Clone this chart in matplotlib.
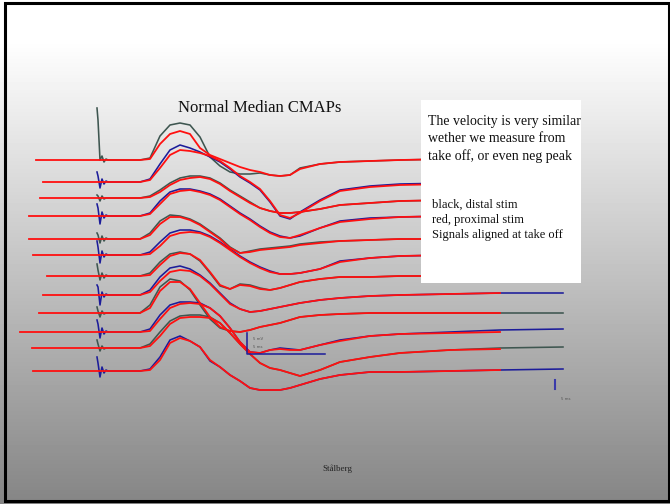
import numpy as np
import matplotlib.pyplot as plt
from matplotlib.patches import Rectangle

W, H = 670, 504

# sample positions along the sweep (slide pixels)
t_wave = [110, 140, 150, 160, 170, 180, 190, 200, 210, 220, 230, 240, 250,
          260, 270, 280, 290, 300, 320, 340, 370, 400, 450, 500, 563]
t_art = [97, 98, 100, 102, 104, 106, 108]

baselines = [160, 182, 198, 216, 239, 255, 276, 295, 313, 332, 348, 371]
red_start = [36, 43, 40, 29, 29, 33, 47, 43, 39, 20, 32, 33]
distal_kind = ['k', 'b', 'k', 'b', 'k', 'b', 'k', 'b', 'k', 'b', 'k', 'b']

# stimulus artefact of the distal sweeps
artefact = [
    [-52, -40, 0, -4, 2, -1, 0],
    [-10, -6, 6, -3, 2, -1, 0],
    [-3, -2, 3, -2, 1, 0, 0],
    [-12, -8, 8, -4, 2, -1, 0],
    [-6, -4, 4, -3, 2, -1, 0],
    [-14, -8, 8, -4, 2, -1, 0],
    [-12, -6, 4, -3, 2, -1, 0],
    [-10, -8, 10, -3, 2, -1, 0],
    [-6, -2, 4, -2, 1, 0, 0],
    [-12, -8, 6, -4, 2, -1, 0],
    [-8, -4, 3, -2, 1, 0, 0],
    [-14, -8, 6, -4, 2, -1, 0],
]

# distal stim (black / blue), deflection in px, negative = up
distal = [
    [0, 0, -2, -24, -35, -37, -35, -23, -3, 6, 12, 14, 14, 13, 15, 16, 15, 8, 4, 2, 1, 0, -1, -1, -1],
    [0, 0, -3, -18, -32, -37, -34, -30, -25, -20, -13, -5, 1, 8, 20, 34, 37, 30, 18, 8, 4, 2, 1, 0, 0],
    [0, 0, -2, -8, -15, -20, -22, -22, -20, -15, -8, -2, 4, 10, 13, 15, 15, 14, 11, 7, 5, 3, 2, 1, 1],
    [0, 0, -3, -15, -24, -27, -27, -25, -22, -17, -10, -3, 3, 10, 16, 20, 22, 20, 12, 5, 2, 1, 0, 0, 0],
    [0, 0, -6, -18, -24, -23, -20, -15, -8, -1, 8, 14, 12, 10, 9, 8, 7, 5, 3, 2, 1, 0, 0, 0, 0],
    [0, 0, -3, -13, -22, -25, -25, -23, -19, -13, -6, 1, 7, 12, 16, 19, 19, 18, 14, 6, 3, 1, 0, 0, 0],
    [0, 0, -3, -14, -22, -24, -22, -15, -3, 10, 13, 8, 9, 12, 14, 12, 9, 6, 3, 1, 1, 0, 0, 0, 0],
    [0, 0, -5, -18, -27, -29, -26, -20, -12, -2, 8, 14, 17, 16, 14, 12, 10, 8, 5, 3, 1, 0, -1, -2, -2],
    [0, 0, -8, -26, -34, -32, -23, -8, 6, 15, 18, 19, 17, 14, 12, 10, 7, 4, 2, 1, 0, 0, 0, 0, 0],
    [0, 0, -3, -17, -27, -30, -30, -29, -24, -16, -4, 10, 20, 21, 18, 16, 17, 18, 13, 8, 4, 2, 0, -2, -3],
    [0, 0, -4, -16, -27, -32, -33, -33, -31, -25, -15, -4, 6, 15, 20, 22, 25, 28, 22, 14, 9, 5, 2, 0, -1],
    [0, 0, -2, -14, -31, -35, -30, -24, -10, -4, 4, 10, 17, 19, 19, 19, 17, 14, 8, 4, 1, 1, 0, -1, -2],
]

# proximal stim (red)
proximal = [
    [0, 0, -1, -16, -26, -29, -26, -12, -5, -1, 3, 7, 10, 12, 15, 16, 15, 9, 4, 2, 1, 0, -1, -1, -1],
    [0, 0, -2, -14, -27, -32, -31, -29, -26, -21, -14, -6, 0, 7, 19, 33, 36, 31, 19, 9, 5, 3, 2, 1, 1],
    [0, 0, -1, -6, -13, -18, -20, -21, -19, -14, -7, -1, 5, 10, 13, 15, 15, 14, 11, 7, 5, 3, 2, 1, 1],
    [0, 0, -2, -12, -22, -25, -26, -24, -21, -16, -9, -2, 4, 11, 17, 21, 22, 19, 12, 6, 3, 1, 0, 0, 0],
    [0, 0, -4, -15, -22, -22, -19, -14, -7, 0, 9, 14, 13, 11, 10, 9, 8, 6, 4, 2, 1, 0, 0, 0, 0],
    [0, 0, -1, -9, -19, -22, -23, -22, -18, -12, -5, 2, 8, 13, 17, 19, 19, 18, 14, 7, 3, 1, 0, 0, 0],
    [0, 0, -1, -11, -20, -23, -22, -16, -4, 9, 13, 9, 10, 13, 14, 12, 9, 6, 3, 1, 1, 0, 0, 0, 0],
    [0, 0, -3, -14, -23, -25, -24, -19, -11, -1, 9, 14, 17, 16, 14, 12, 10, 8, 5, 3, 1, 0, -1, -2],
    [0, 0, -5, -22, -31, -31, -24, -10, 4, 14, 18, 19, 17, 14, 12, 10, 7, 4, 2, 1, 0, 0, 0, 0],
    [0, 0, -1, -13, -24, -28, -29, -28, -24, -16, -4, 10, 20, 21, 18, 17, 18, 18, 13, 9, 4, 2, 1, 0],
    [0, 0, -2, -12, -24, -30, -31, -31, -30, -25, -15, -4, 6, 15, 20, 22, 25, 28, 22, 14, 9, 5, 2, 1],
    [0, 0, -1, -11, -28, -33, -30, -24, -11, -4, 4, 10, 17, 19, 19, 19, 17, 14, 8, 4, 1, 1, 0, -1],
]

colours = {'k': '#3e5650', 'b': '#1c1c9a'}
RED = '#ff1010'

fig = plt.figure(figsize=(6.7, 5.04), dpi=100)
ax = fig.add_axes([0, 0, 1, 1])
ax.set_xlim(0, W)
ax.set_ylim(H, 0)
ax.axis('off')

# slide background: white at the top fading to grey
grad = np.concatenate([np.full(40, 255.0), np.linspace(255, 133, H - 40)])
ax.imshow(np.repeat(grad[:, None], 2, axis=1), cmap='gray', vmin=0, vmax=255,
          extent=(0, W, H, 0), aspect='auto', zorder=0)
ax.add_patch(Rectangle((4.5, 3), 664, 498, fill=False, ec='black', lw=2.2, zorder=10))

for i, base in enumerate(baselines):
    c = colours[distal_kind[i]]
    xs = t_art + t_wave
    ys = [base + v for v in artefact[i] + distal[i]]
    ax.plot(xs, ys, color=c, lw=1.15, solid_joinstyle='round', zorder=3)
    xr = [red_start[i]] + t_wave[:len(proximal[i])]
    yr = [base] + [base + v for v in proximal[i]]
    ax.plot(xr, yr, color=RED, lw=1.3, solid_joinstyle='round', zorder=4)

# calibration
ax.plot([247, 247, 325], [333, 354, 354], color='#1c1c9a', lw=1.1, zorder=5)
ax.text(253, 339, '5 mV', fontsize=2.8, color='#555555', va='center', zorder=6)
ax.text(253, 347, '5 ms', fontsize=2.8, color='#555555', va='center', zorder=6)
ax.plot([555, 555], [380, 389], color='#3a3aaa', lw=1.5, zorder=5)
ax.text(561, 399, '5 ms', fontsize=2.8, color='#555555', va='center', zorder=6)

serif = 'Liberation Serif'
ax.text(260, 108, 'Normal Median CMAPs', fontsize=12, family=serif,
        ha='center', va='center', color='#111111', zorder=6)

ax.add_patch(Rectangle((421, 100), 160, 183, fc='white', ec='none', zorder=7))
for k, line in enumerate(['The velocity is very similar', 'wether we measure from',
                          'take off, or even neg peak']):
    ax.text(428, 122 + 17 * k, line, fontsize=10, family=serif, va='center',
            color='#111111', zorder=8)
for k, line in enumerate(['black, distal stim', 'red, proximal stim',
                          'Signals aligned at take off']):
    ax.text(432, 205 + 15 * k, line, fontsize=9, family=serif, va='center',
            color='#111111', zorder=8)

ax.text(337, 469, 'Stålberg', fontsize=6.5, family=serif, ha='center', va='center',
        color='#222222', zorder=6)

fig.savefig('out.png', dpi=100)
